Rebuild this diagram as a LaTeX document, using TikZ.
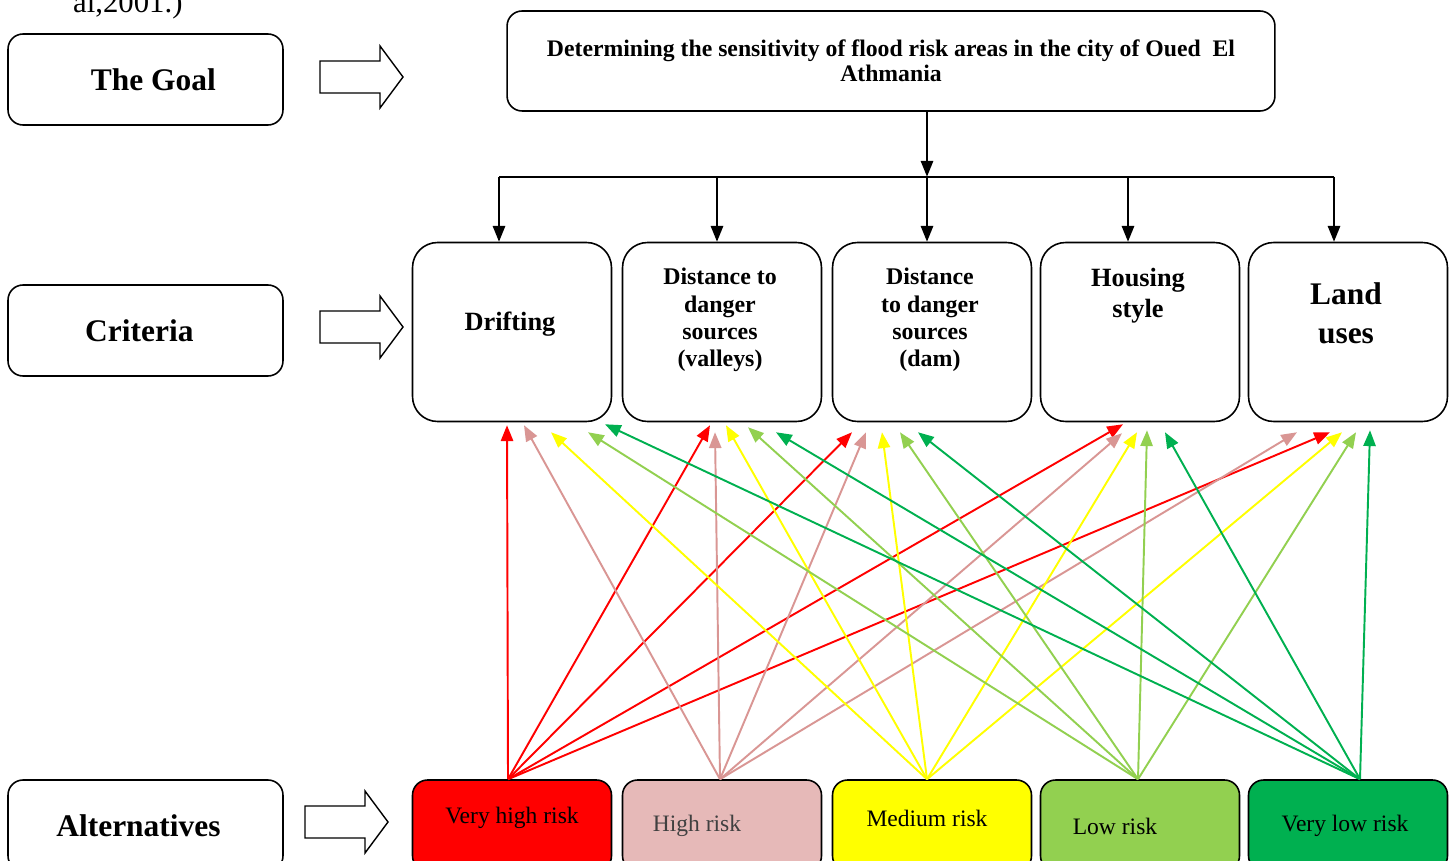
\documentclass[tikz,border=0pt]{standalone}
\usepackage{fontspec}
\setmainfont{Liberation Serif}
\usepackage{tikz}
\usetikzlibrary{arrows.meta}
\definecolor{vhigh}{HTML}{FF0000}
\definecolor{highfill}{HTML}{E6B9B8}
\definecolor{high}{HTML}{D99694}
\definecolor{medium}{HTML}{FFFF00}
\definecolor{low}{HTML}{92D050}
\definecolor{vlow}{HTML}{00B050}
% hollow block arrow, #1/#2 = left end, middle height
\newcommand{\fatarrow}[2]{\draw[line width=0.8pt] (#1,#2) ++(0,-16) -- ++(60,0) -- ++(0,-15) -- ++(23,31) -- ++(-23,31) -- ++(0,-15) -- ++(-60,0) -- cycle;}

\begin{document}
\begin{tikzpicture}[x=0.02cm, y=-0.02cm,
  box/.style={draw, line width=0.9pt, rounded corners=0.3cm, inner sep=0pt},
  side/.style={box, minimum width=5.5cm, minimum height=1.82cm, font=\bfseries\fontsize{17.9}{20}\selectfont},
  crit/.style={box, rounded corners=0.5cm, minimum width=3.98cm, minimum height=3.58cm},
  alt/.style={box, minimum width=3.98cm, minimum height=1.82cm},
  ctext/.style={font=\bfseries\fontsize{13.6}{15.6}\selectfont, align=center},
  atext/.style={font=\fontsize{13.4}{15}\selectfont},
  tree/.style={line width=1.1pt},
  treearrow/.style={tree, -{Triangle[length=9pt,width=7pt]}},
  link/.style={line width=1.1pt, -{Triangle[length=9pt,width=7pt]}}]
\useasboundingbox (0,0) rectangle (1456,861);

\node[anchor=base west, font=\fontsize{17.5}{20}\selectfont] (cite) at (67,13) {al,2001.)};

% left column
\node[side] (lgoal) at (145.5,79.5) {\hspace*{9pt}The Goal};
\node[side] (lcrit) at (145.5,330.5) {Criteria\hspace*{7pt}};
\node[side] (lalt) at (145.5,825.5) {Alternatives\hspace*{8pt}};
\fatarrow{320}{77}
\fatarrow{320}{327}
\fatarrow{305}{822}

% goal
\node[box, minimum width=15.36cm, minimum height=2cm, align=center,
  font=\bfseries\fontsize{13.5}{14.5}\selectfont] (goal) at (891,61)
  {Determining the sensitivity of flood risk areas in the city of Oued\ \ El\\Athmania};

% criteria
\node[crit] (c1) at (512,332) {};
\node[crit] (c2) at (722,332) {};
\node[crit] (c3) at (932,332) {};
\node[crit] (c4) at (1140,332) {};
\node[crit] (c5) at (1348,332) {};
\node[ctext, font=\bfseries\fontsize{15}{17.6}\selectfont] (t1) at (510,324) {Drifting};
\node[ctext] (t2) at (720,320) {Distance to\\danger\\sources\\(valleys)};
\node[ctext] (t3) at (930,320) {Distance\\to danger\\sources\\(dam)};
\node[ctext, font=\bfseries\fontsize{15}{17.6}\selectfont] (t4) at (1138,296) {Housing\\style};
\node[ctext, font=\bfseries\fontsize{17.9}{22}\selectfont] (t5) at (1346,313) {Land\\uses};

% alternatives
\node[alt, fill=vhigh] (a1) at (512,825.5) {};
\node[alt, fill=highfill] (a2) at (722,825.5) {};
\node[alt, fill=medium] (a3) at (932,825.5) {};
\node[alt, fill=low] (a4) at (1140,825.5) {};
\node[alt, fill=vlow] (a5) at (1348,825.5) {};
\node[atext] (s1) at (512,818) {Very high risk};
\node[atext, text=black!75] (s2) at (697,826) {High risk};
\node[atext] (s3) at (927,818) {Medium risk};
\node[atext] (s4) at (1115,826) {Low risk};
\node[atext] (s5) at (1345,826) {Very low risk};

% goal to criteria
\coordinate (hub) at ([shift={(-5,-65)}]c3.north);
\draw[treearrow] (goal.south -| hub) -- (hub);
\draw[tree] ([shift={(-13,-65)}]c1.north) -- ([shift={(-14,-65)}]c5.north);
\foreach \n/\dx in {c1/-13, c2/-5, c3/-5, c4/-12, c5/-14}
  \draw[treearrow] ([shift={(\dx,-65)}]\n.north) -- ([shift={(\dx,0)}]\n.north);

% alternatives to criteria
\foreach \a/\col/\sx/\targets in {
  a1/vhigh/-4/{c1/-5/3, c2/-12/3, c3/-80/10, c4/-17/2, c5/-18/10},
  a2/high/-2/{c1/12/3, c2/-7/10, c3/-66/10, c4/-18/11, c5/-51/10},
  a3/medium/-5/{c1/39/10, c2/4/3, c3/-50/10, c4/-3/10, c5/-6/10},
  a4/low/-2/{c1/76/10, c2/26/5, c3/-32/10, c4/7/8, c5/8/10},
  a5/vlow/12/{c1/93/2, c2/54/10, c3/-14/10, c4/25/10, c5/22/8}}
  \foreach \c/\dx/\dy in \targets
    \draw[link, \col] ([shift={(\sx,0)}]\a.north) -- ([shift={(\dx,\dy)}]\c.south);
\end{tikzpicture}
\end{document}
